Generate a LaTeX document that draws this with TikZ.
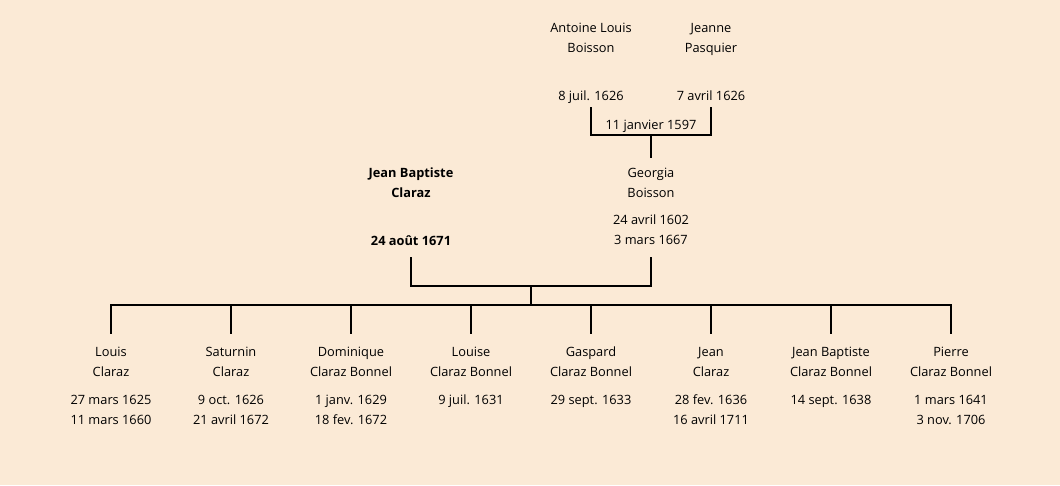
\documentclass[tikz,border=0pt]{standalone}
\usepackage{fontspec}
\setmainfont{Open Sans}
\definecolor{paper}{HTML}{FBEAD6}
\tikzset{
  person/.style={align=center, inner sep=0pt, anchor=north,
    font=\fontsize{12.8}{20}\selectfont},
  tie/.style={line width=1.8pt, line cap=rect}
}
\begin{document}
\begin{tikzpicture}[x=1pt,y=-1pt]
  \fill[paper] (0,0) rectangle (1060,485);
  \useasboundingbox (0,0) rectangle (1060,485);

  % grand-parents
  \node[person] (antoine) at (591,23) {Antoine Louis\\Boisson\\[28pt]8 juil. 1626};
  \node[person] (jeanne) at (711,23) {Jeanne\\Pasquier\\[28pt]7 avril 1626};
  \coordinate (pa) at (591,108);
  \coordinate (ma) at (711,108);
  \coordinate (m1) at (651,135);
  \draw[tie] (pa) |- (m1) -| (ma);
  \node[font=\fontsize{12.8}{14}\selectfont] (wed1) at (651,126) {11 janvier 1597};

  % parents
  \node[person] (georgia) at (651,168) {Georgia\\Boisson\\[7pt]24 avril 1602\\3 mars 1667};
  \node[person, font=\fontsize{12.8}{20}\selectfont\bfseries] (jeanbap) at (411,168) {Jean Baptiste\\Claraz\\[28pt]24 août 1671};
  \coordinate (gtop) at (651,157);
  \draw[tie] (m1) -- (gtop);
  \coordinate (pb) at (411,258);
  \coordinate (mb) at (651,258);
  \coordinate (m2) at (531,286);
  \draw[tie] (pb) |- (m2) -| (mb);
  \coordinate (bar) at (531,305);
  \draw[tie] (m2) -- (bar);

  % children
  \foreach \x/\t [count=\i] in {
      111/{Louis\\Claraz\\[8pt]27 mars 1625\\11 mars 1660},
      231/{Saturnin\\Claraz\\[8pt]9 oct. 1626\\21 avril 1672},
      351/{Dominique\\Claraz Bonnel\\[8pt]1 janv. 1629\\18 fev. 1672},
      471/{Louise\\Claraz Bonnel\\[8pt]9 juil. 1631},
      591/{Gaspard\\Claraz Bonnel\\[8pt]29 sept. 1633},
      711/{Jean\\Claraz\\[8pt]28 fev. 1636\\16 avril 1711},
      831/{Jean Baptiste\\Claraz Bonnel\\[8pt]14 sept. 1638},
      951/{Pierre\\Claraz Bonnel\\[8pt]1 mars 1641\\3 nov. 1706}} {
    \node[person] (c\i) at (\x,347) {\t};
    \coordinate (k\i) at (\x,333);
    \draw[tie] (k\i) |- (bar);
  }
\end{tikzpicture}
\end{document}
